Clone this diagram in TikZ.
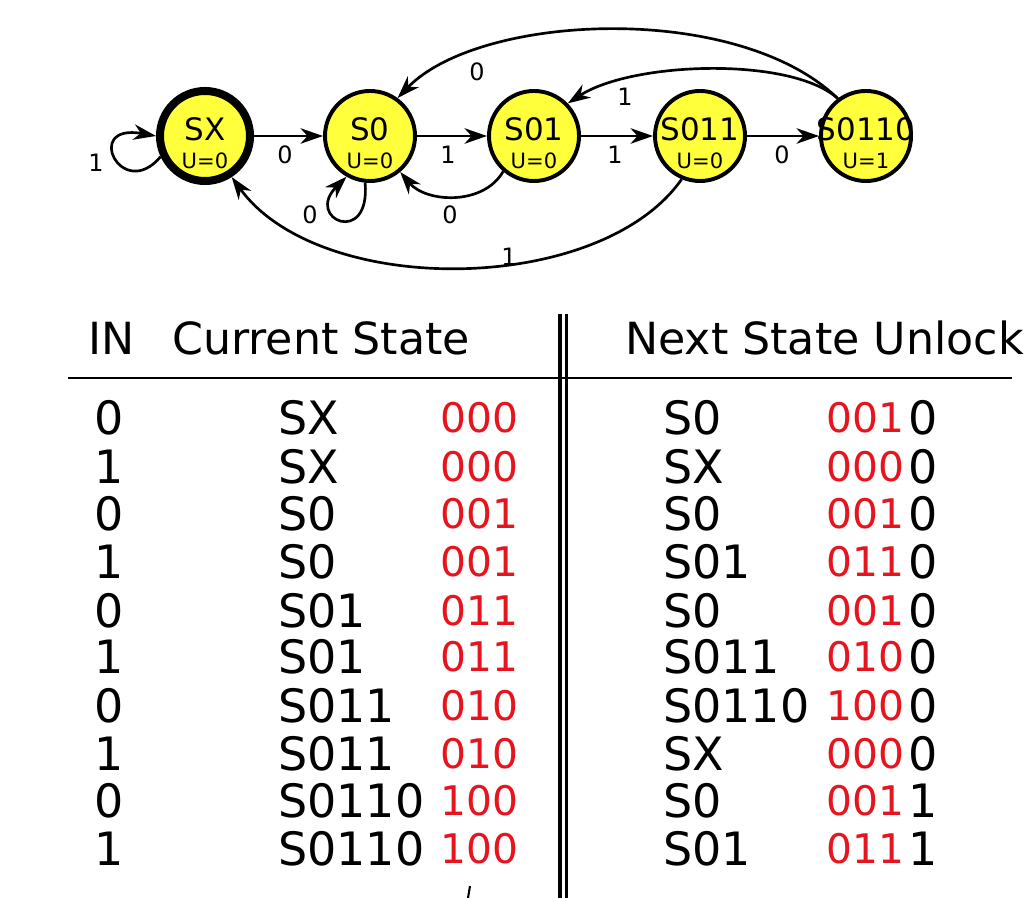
\documentclass[tikz,border=0pt]{standalone}
\usepackage{fontspec}
\setmainfont{DejaVu Sans}
\usepackage{xcolor}
\usepackage{tikz}
\usetikzlibrary{arrows.meta}
\definecolor{stateyellow}{RGB}{255,255,60}
\definecolor{codered}{RGB}{230,20,30}
\newcommand{\statetext}[2]{\rule{0pt}{26pt}\makebox[0pt]{#1}\\\makebox[0pt]{\fontsize{15}{15}\selectfont U=#2}}

\begin{document}
\begin{tikzpicture}[x=0.025cm, y=0.025cm,
  state/.style={circle, draw=black, fill=stateyellow, line width=2.8pt, minimum size=2.25cm, inner sep=0pt, align=center, font=\fontsize{22}{20}\selectfont},
  trans/.style={line width=1.9pt, -{Stealth[length=16pt,width=11pt,inset=5pt]}},
  lbl/.style={font=\fontsize{17}{17}\selectfont, inner sep=0pt},
  hdr/.style={font=\fontsize{31.5}{34}\selectfont, inner sep=0pt},
  tbl/.style={font=\fontsize{32.7}{36}\selectfont, inner sep=0pt},
  code/.style={font=\fontsize{29}{32}\selectfont, inner sep=0pt, text=codered}]

\useasboundingbox (0,0) rectangle (1032,-898);

% states
\node [state, line width=5.7pt] (sx) at (205,-136) {\statetext{SX}{0}};
\node [state] (s0) at (370,-136) {\statetext{S0}{0}};
\node [state] (s01) at (534,-136) {\statetext{S01}{0}};
\node [state] (s011) at (700,-136) {\statetext{S011}{0}};
\node [state] (s0110) at (866,-136) {\statetext{S0110}{1}};

% transitions
\draw [trans] (sx.205) .. controls +(230:60) and +(170:75) .. (sx.180);
\draw [trans] (sx) -- (s0);
\draw [trans] (s0) -- (s01);
\draw [trans] (s01) -- (s011);
\draw [trans] (s011) -- (s0110);
\draw [trans] (s0.264) .. controls +(275:65) and +(225:60) .. (s0.240);
\draw [trans] (s01.229) .. controls +(240:40) and +(-50:40) .. (s0.310);
\draw [trans] (s011.247) .. controls +(235:142) and +(306:150) .. (sx.303);
\draw [trans] (s0110.127) .. controls +(136:140) and +(46:118) .. (s0.54);
\draw [trans] (s0110.127) .. controls +(138:63) and +(33:77) .. (s01.44);

\node [lbl] (l1) at (96,-163) {1};
\node [lbl] (l2) at (285,-155) {0};
\node [lbl] (l3) at (448,-155) {1};
\node [lbl] (l4) at (615,-155) {1};
\node [lbl] (l5) at (782,-155) {0};
\node [lbl] (l6) at (310,-215) {0};
\node [lbl] (l7) at (450,-215) {0};
\node [lbl] (l8) at (509,-257) {1};
\node [lbl] (l9) at (477,-72) {0};
\node [lbl] (l10) at (625,-97) {1};

% table
\node [hdr, anchor=base west] (hin) at (88,-355) {IN};
\node [hdr, anchor=base west] (hcur) at (172,-355) {Current State};
\node [hdr, anchor=base east] (hnext) at (1024,-355) {Next State Unlock};
\draw [line width=1.6pt] (68,-378) -- (1012,-378);
\draw [line width=2.2pt] (560,-314) -- (560,-898);
\draw [line width=2.2pt] (566.5,-314) -- (566.5,-898);
\draw [line width=1.5pt] (470,-886) -- (468,-898);

\node [tbl, anchor=base east] (in1) at (124,-435) {0};
\node [tbl, anchor=base west] (cs1) at (278,-435) {SX};
\node [code, anchor=base west] (cc1) at (440,-433) {000};
\node [tbl, anchor=base west] (ns1) at (663,-435) {S0};
\node [code, anchor=base west] (nc1) at (826,-433) {001};
\node [tbl, anchor=base east] (ul1) at (938,-435) {0};

\node [tbl, anchor=base east] (in2) at (124,-483) {1};
\node [tbl, anchor=base west] (cs2) at (278,-483) {SX};
\node [code, anchor=base west] (cc2) at (440,-481) {000};
\node [tbl, anchor=base west] (ns2) at (663,-483) {SX};
\node [code, anchor=base west] (nc2) at (826,-481) {000};
\node [tbl, anchor=base east] (ul2) at (938,-483) {0};

\node [tbl, anchor=base east] (in3) at (124,-530) {0};
\node [tbl, anchor=base west] (cs3) at (278,-530) {S0};
\node [code, anchor=base west] (cc3) at (440,-528) {001};
\node [tbl, anchor=base west] (ns3) at (663,-530) {S0};
\node [code, anchor=base west] (nc3) at (826,-528) {001};
\node [tbl, anchor=base east] (ul3) at (938,-530) {0};

\node [tbl, anchor=base east] (in4) at (124,-578) {1};
\node [tbl, anchor=base west] (cs4) at (278,-578) {S0};
\node [code, anchor=base west] (cc4) at (440,-576) {001};
\node [tbl, anchor=base west] (ns4) at (663,-578) {S01};
\node [code, anchor=base west] (nc4) at (826,-576) {011};
\node [tbl, anchor=base east] (ul4) at (938,-578) {0};

\node [tbl, anchor=base east] (in5) at (124,-627) {0};
\node [tbl, anchor=base west] (cs5) at (278,-627) {S01};
\node [code, anchor=base west] (cc5) at (440,-625) {011};
\node [tbl, anchor=base west] (ns5) at (663,-627) {S0};
\node [code, anchor=base west] (nc5) at (826,-625) {001};
\node [tbl, anchor=base east] (ul5) at (938,-627) {0};

\node [tbl, anchor=base east] (in6) at (124,-673) {1};
\node [tbl, anchor=base west] (cs6) at (278,-673) {S01};
\node [code, anchor=base west] (cc6) at (440,-671) {011};
\node [tbl, anchor=base west] (ns6) at (663,-673) {S011};
\node [code, anchor=base west] (nc6) at (826,-671) {010};
\node [tbl, anchor=base east] (ul6) at (938,-673) {0};

\node [tbl, anchor=base east] (in7) at (124,-722) {0};
\node [tbl, anchor=base west] (cs7) at (278,-722) {S011};
\node [code, anchor=base west] (cc7) at (440,-720) {010};
\node [tbl, anchor=base west] (ns7) at (663,-722) {S0110};
\node [code, anchor=base west] (nc7) at (826,-720) {100};
\node [tbl, anchor=base east] (ul7) at (938,-722) {0};

\node [tbl, anchor=base east] (in8) at (124,-770) {1};
\node [tbl, anchor=base west] (cs8) at (278,-770) {S011};
\node [code, anchor=base west] (cc8) at (440,-768) {010};
\node [tbl, anchor=base west] (ns8) at (663,-770) {SX};
\node [code, anchor=base west] (nc8) at (826,-768) {000};
\node [tbl, anchor=base east] (ul8) at (938,-770) {0};

\node [tbl, anchor=base east] (in9) at (124,-817) {0};
\node [tbl, anchor=base west] (cs9) at (278,-817) {S0110};
\node [code, anchor=base west] (cc9) at (440,-815) {100};
\node [tbl, anchor=base west] (ns9) at (663,-817) {S0};
\node [code, anchor=base west] (nc9) at (826,-815) {001};
\node [tbl, anchor=base east] (ul9) at (938,-817) {1};

\node [tbl, anchor=base east] (in10) at (124,-865) {1};
\node [tbl, anchor=base west] (cs10) at (278,-865) {S0110};
\node [code, anchor=base west] (cc10) at (440,-863) {100};
\node [tbl, anchor=base west] (ns10) at (663,-865) {S01};
\node [code, anchor=base west] (nc10) at (826,-863) {011};
\node [tbl, anchor=base east] (ul10) at (938,-865) {1};

\end{tikzpicture}
\end{document}
